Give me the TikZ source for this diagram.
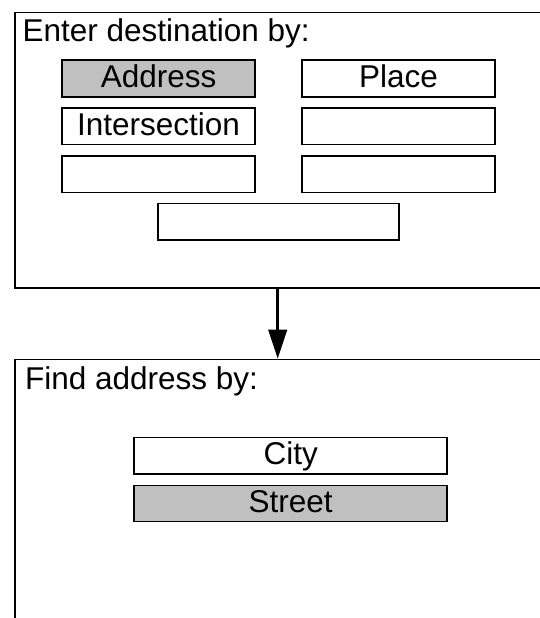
\documentclass[tikz,border=0pt]{standalone}
\usepackage{fontspec}
\setmainfont{Liberation Sans}
\usetikzlibrary{arrows.meta}
\definecolor{selgray}{RGB}{192,192,192}
\begin{document}
\begin{tikzpicture}[x=1pt,y=-1pt,
  panel/.style={draw, line width=1.7pt, anchor=north west, inner sep=0pt},
  btn/.style={draw, line width=1.7pt, anchor=north west, inner sep=0pt,
    text height=22.7pt, text depth=4.6pt, font=\fontsize{31.5}{36}\selectfont},
  sel/.style={btn, fill=selgray},
  title/.style={anchor=base west, inner sep=0pt, font=\fontsize{31.5}{36}\selectfont},
  flow/.style={line width=2.7pt, -{Triangle[length=29pt,width=18.5pt]}}
]
\useasboundingbox (0,0) rectangle (540,618);
\clip (0,0) rectangle (540,618);
% panels
\node[panel, minimum width=560pt, minimum height=275.3pt] (top) at (13.8,11.7) {};
\node[panel, minimum width=560pt, minimum height=300pt] (bot) at (13.8,358.7) {};
% titles
\node[title] (t1) at (22.3,41.7) {Enter destination by:};
\node[title] (t2) at (24.9,389.3) {Find address by:};
% buttons of first panel
\node[sel, minimum width=192.8pt, minimum height=36.7pt] (address) at (61.3,59.3) {Address};
\node[btn, minimum width=192.5pt, minimum height=36.7pt] (place) at (301.3,59.3) {Place};
\node[btn, minimum width=192.8pt, minimum height=36.7pt] (inter) at (61.3,107) {Intersection};
\node[btn, minimum width=192.5pt, minimum height=36.7pt] (b4) at (301.3,107) {};
\node[btn, minimum width=192.8pt, minimum height=36.7pt] (b5) at (61.3,155) {};
\node[btn, minimum width=192.5pt, minimum height=36.7pt] (b6) at (301.3,155) {};
\node[btn, minimum width=241pt, minimum height=36.7pt] (b7) at (157.4,202.7) {};
% buttons of second panel
\node[btn, minimum width=313pt, minimum height=36.6pt] (city) at (133.3,436.7) {City};
\node[sel, minimum width=313pt, minimum height=36pt] (street) at (133.3,484.7) {Street};
% connector
\coordinate (ax) at (277.7,0);
\draw[flow] (top.south -| ax) -- (bot.north -| ax);
\end{tikzpicture}
\end{document}
